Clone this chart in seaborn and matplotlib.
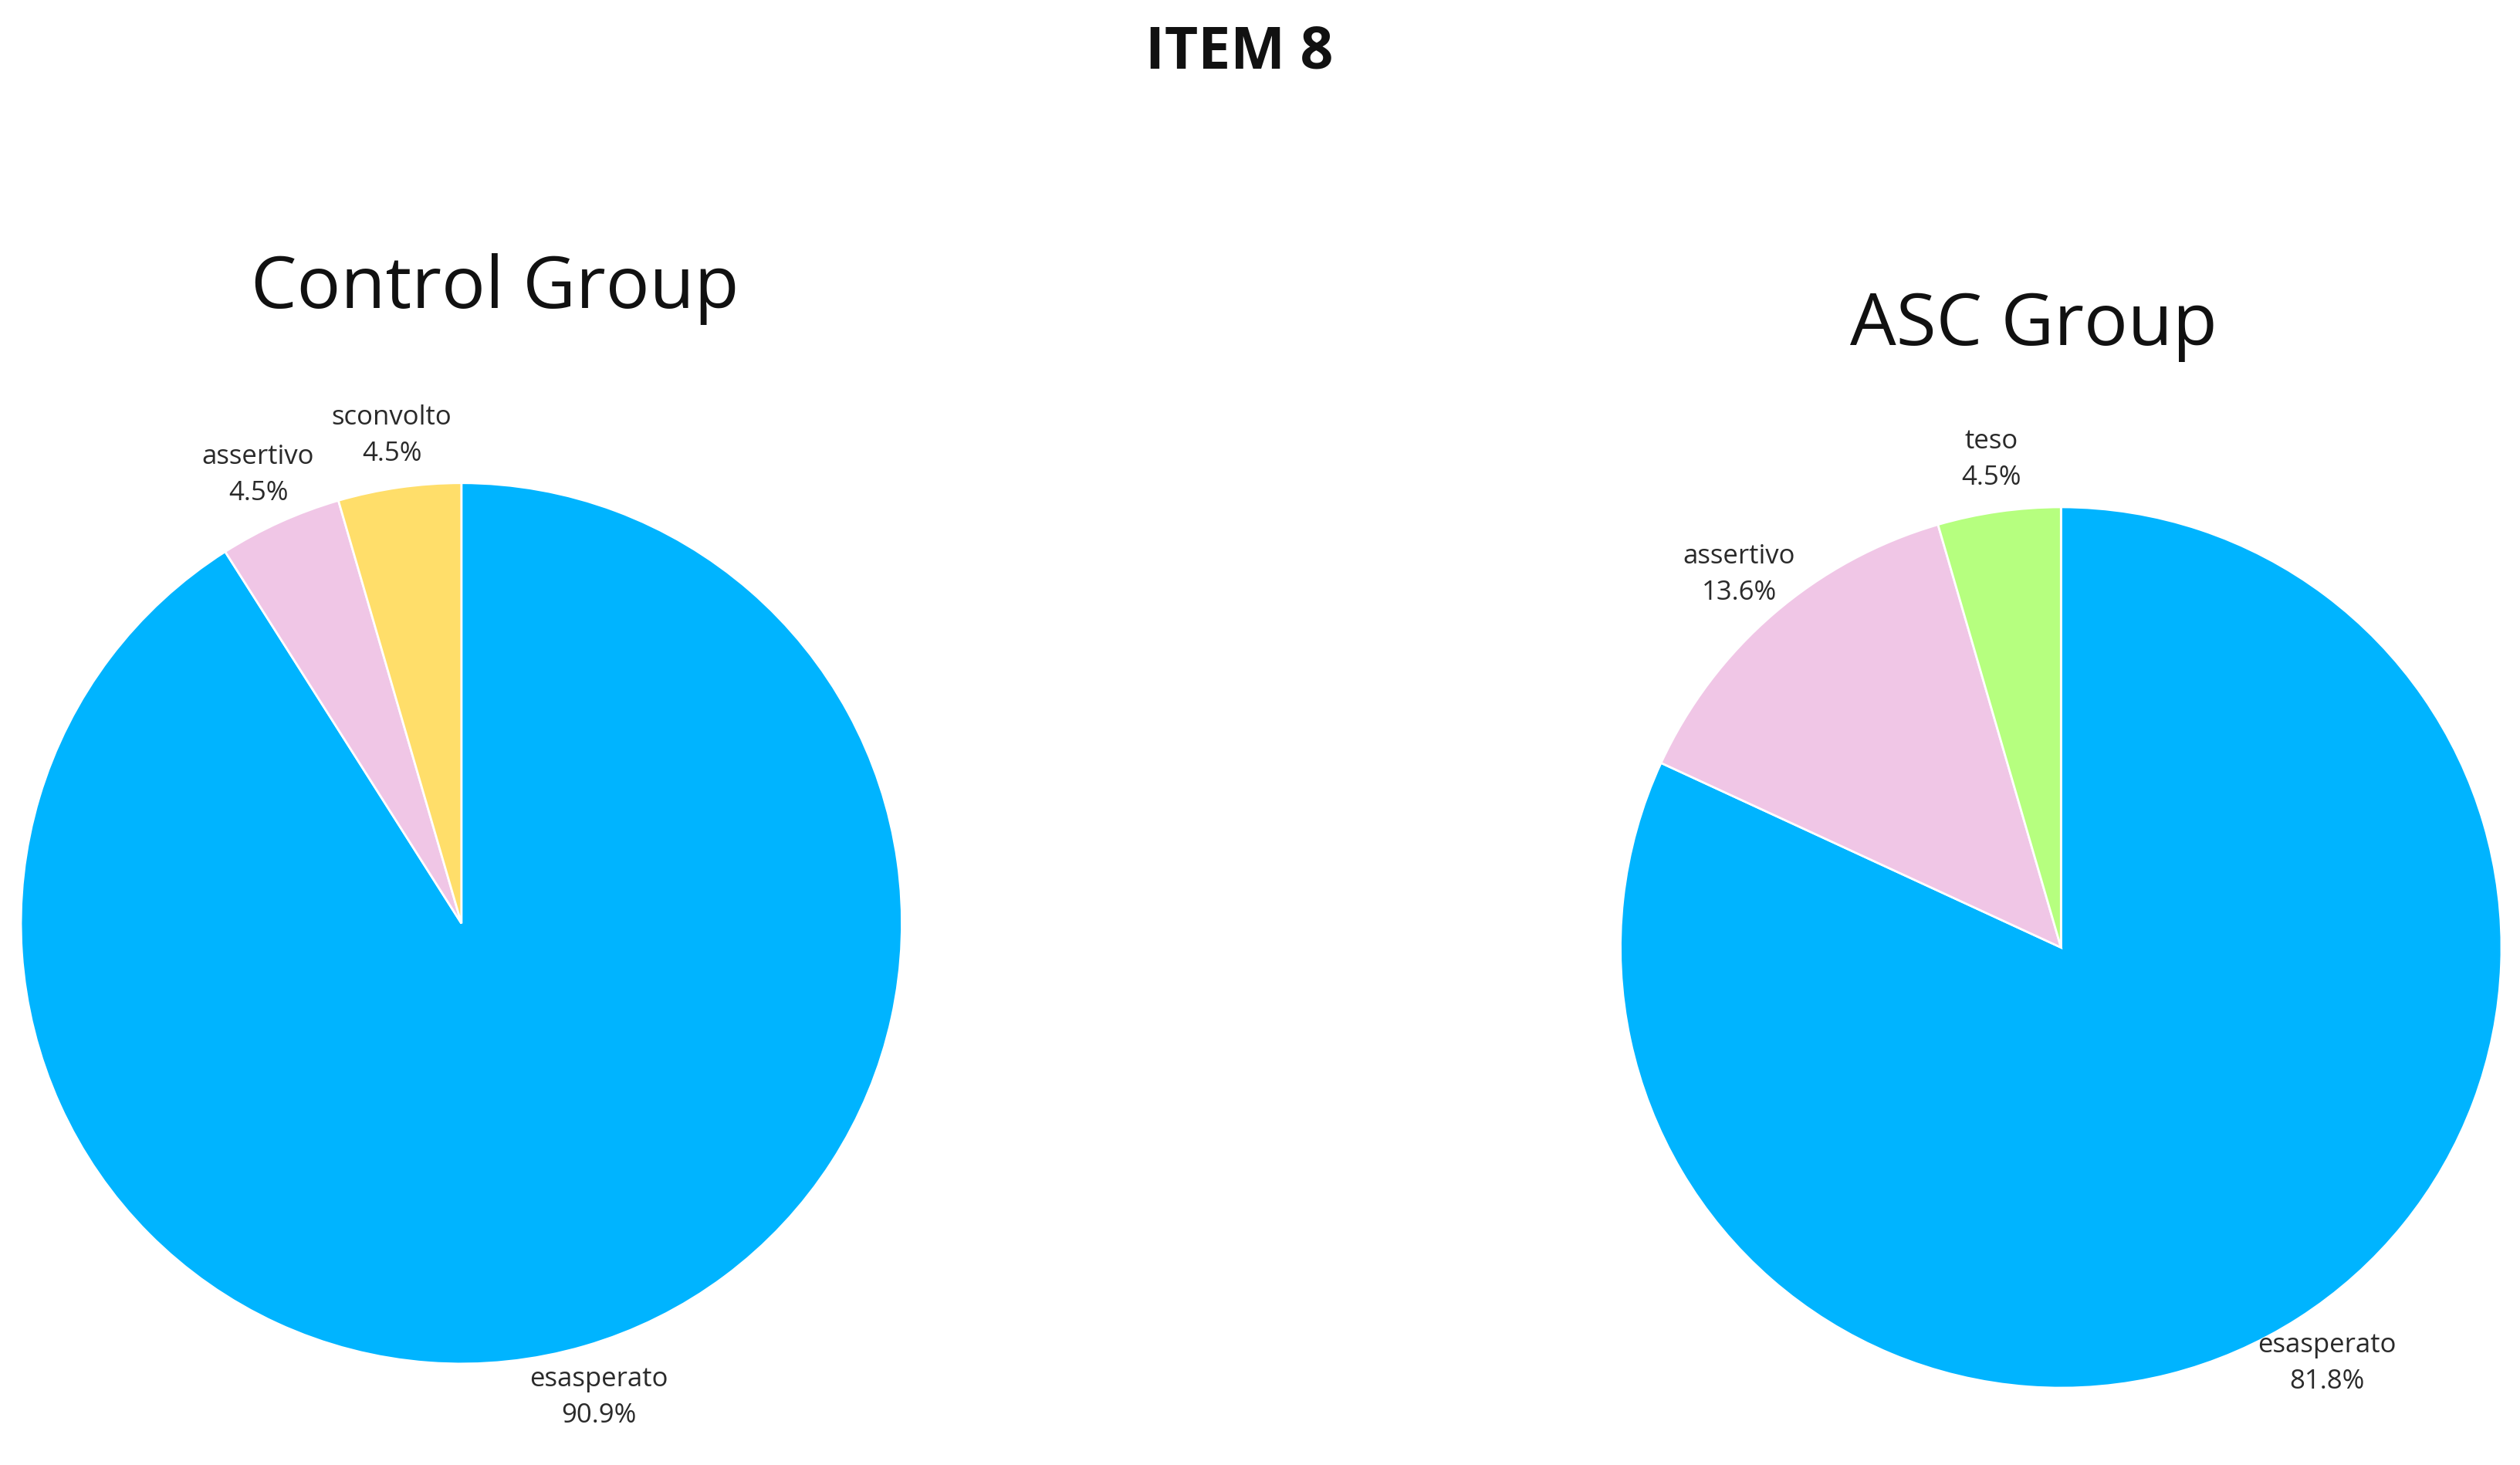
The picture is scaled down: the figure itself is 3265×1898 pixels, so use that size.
import matplotlib
matplotlib.use("Agg")
import matplotlib.pyplot as plt
import seaborn as sns

sns.set_theme(style="white")
plt.rcParams['font.family'] = ['Open Sans', 'DejaVu Sans']

control_labels = ["esasperato", "assertivo", "sconvolto"]
control_values = [90.9, 4.5, 4.5]
control_colors = ["#00B4FF", "#F0C6E6", "#FFDE6A"]

asc_labels = ["esasperato", "assertivo", "teso"]
asc_values = [81.8, 13.6, 4.5]
asc_colors = ["#00B4FF", "#F0C6E6", "#B6FF7F"]

W, H = 1568, 912
fig = plt.figure(figsize=(16.33, 9.495), dpi=200)
fig.patch.set_facecolor("white")

def draw(cx, cy, r, labels, values, colors, title, ty):
    ax = fig.add_axes([(cx - r) / W, 1 - (cy + r) / H, 2 * r / W, 2 * r / H])
    texts = [f"{l}\n{v:.1f}%" for l, v in zip(labels, values)]
    wedges, lbls = ax.pie(values, labels=texts, colors=colors, startangle=90,
                          counterclock=False, labeldistance=1.12, radius=1,
                          textprops=dict(fontsize=12.5, color="#2a2a2a", linespacing=1.5))
    for t in lbls:
        t.set_ha("center")
    ax.set_xlim(-1, 1)
    ax.set_ylim(-1, 1)
    ax.set_aspect("auto")
    ax.axis("off")
    fig.text(title[1] / W, 1 - ty / H, title[0], ha="center", va="center", fontsize=34, color="#111111")

draw(287, 575, 274, control_labels, control_values, control_colors, ("Control Group", 308), 180)
draw(1282, 590, 274, asc_labels, asc_values, asc_colors, ("ASC Group", 1265), 203)

fig.text(771 / W, 1 - 33 / H, "ITEM 8", ha="center", va="center", fontsize=27, fontweight="bold", color="#111111")

fig.savefig("out.png", dpi=200, facecolor="white")
